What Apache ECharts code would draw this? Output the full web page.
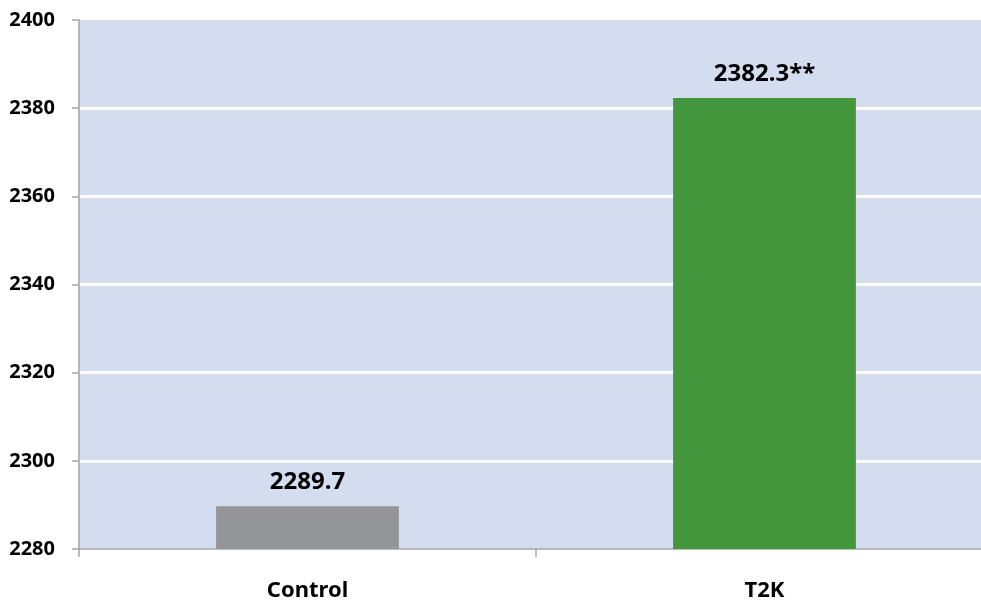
<!DOCTYPE html>
<html>
<head>
<meta charset="utf-8">
<script src="https://cdn.jsdelivr.net/npm/echarts@6/dist/echarts.min.js"></script>
<style>
  html, body { margin: 0; padding: 0; background: #ffffff; }
  #chart { width: 981px; height: 607px; }
</style>
</head>
<body>
<div id="chart"></div>
<script>
// Group names and measured values
const categories = ['Control', 'T2K'];
const values = [2289.7, 2382.3];
const labelSuffix = ['', '**'];
const barColors = ['#939598', '#43963b'];

// Value axis range
const yMin = 2280;
const yMax = 2400;
const yStep = 20;

const chart = echarts.init(document.getElementById('chart'), null, { renderer: 'canvas' });

chart.setOption({
  animation: false,
  grid: {
    left: 79,
    top: 20,
    width: 914,
    bottom: 58,
    outerBoundsMode: 'none',
    containLabel: false,
    show: true,
    backgroundColor: '#d4dcef',
    borderWidth: 0
  },
  xAxis: {
    type: 'category',
    data: categories,
    axisLine: { lineStyle: { color: '#a6a6a6', width: 1.5 } },
    axisTick: { show: true, length: 8, lineStyle: { color: '#a6a6a6', width: 1.5 } },
    axisLabel: {
      margin: 31,
      color: '#000000',
      fontFamily: 'Noto Sans',
      fontWeight: 'bold',
      fontSize: 22
    }
  },
  yAxis: {
    type: 'value',
    min: yMin,
    max: yMax,
    interval: yStep,
    axisLine: { show: true, lineStyle: { color: '#a6a6a6', width: 1.5 } },
    axisTick: { show: true, length: 7, lineStyle: { color: '#a6a6a6', width: 1.5 } },
    splitLine: { show: true, showMinLine: false, showMaxLine: false, lineStyle: { color: '#ffffff', width: 3 } },
    axisLabel: {
      margin: 24,
      color: '#000000',
      fontFamily: 'Noto Sans',
      fontWeight: 'bold',
      fontSize: 20,
      formatter: (v) => String(v)
    }
  },
  series: [{
    type: 'bar',
    barWidth: '40%',
    data: values.map((v, i) => ({ value: v, itemStyle: { color: barColors[i] } })),
    label: {
      show: true,
      position: 'top',
      distance: 12,
      color: '#000000',
      fontFamily: 'Noto Sans',
      fontWeight: 'bold',
      fontSize: 24,
      formatter: (p) => values[p.dataIndex].toFixed(1) + labelSuffix[p.dataIndex]
    }
  }]
});
</script>
</body>
</html>
